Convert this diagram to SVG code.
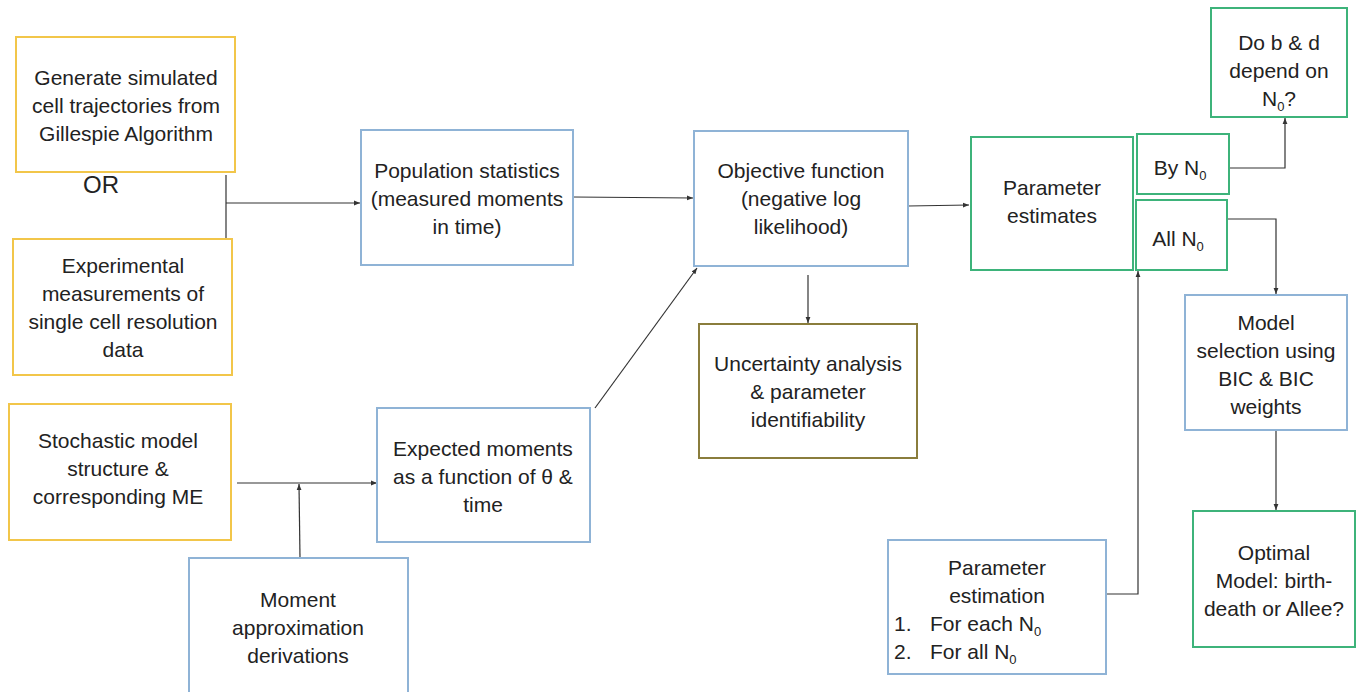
<svg xmlns="http://www.w3.org/2000/svg" width="1356" height="692" viewBox="0 0 1356 692">
<defs>
<marker id="ah" viewBox="0 0 10 10" refX="10" refY="5" markerWidth="6" markerHeight="6" orient="auto" markerUnits="userSpaceOnUse">
<path d="M0,1 L10,5 L0,9 z" fill="#333"/>
</marker>
<style>
.y{fill:#fff;stroke:#f2c64a;stroke-width:2}
.b{fill:#fff;stroke:#8fb3d6;stroke-width:2}
.g{fill:#fff;stroke:#3db37a;stroke-width:2}
.o{fill:#fff;stroke:#8a7d3c;stroke-width:2}
text{font-family:"Liberation Sans","Open Sans",sans-serif;font-size:21px;fill:#222;text-anchor:middle}
.l{text-anchor:start}
.s{font-size:13px}
.c line,.c polyline{stroke:#333;stroke-width:1.2;fill:none}
</style>
</defs>
<rect width="1356" height="692" fill="#fff"/>

<g class="c" id="connectors">
<polyline points="226,175 226,239"/>
<line x1="226" y1="203" x2="360" y2="203" marker-end="url(#ah)"/>
<line x1="573" y1="197" x2="693" y2="198" marker-end="url(#ah)"/>
<line x1="908" y1="206" x2="969" y2="205" marker-end="url(#ah)"/>
<polyline points="1229,168 1285,168 1285,118" marker-end="url(#ah)"/>
<polyline points="1227,219 1276,219 1276,294" marker-end="url(#ah)"/>
<line x1="1276" y1="430" x2="1276" y2="510" marker-end="url(#ah)"/>
<polyline points="1106,594 1138,594 1138,271" marker-end="url(#ah)"/>
<line x1="808" y1="275" x2="808" y2="323" marker-end="url(#ah)"/>
<line x1="595" y1="408" x2="697" y2="268" marker-end="url(#ah)"/>
<line x1="237" y1="483" x2="377" y2="483" marker-end="url(#ah)"/>
<line x1="300" y1="558" x2="299" y2="484" marker-end="url(#ah)"/>
</g>

<g id="gen"><rect class="y" x="16" y="37" width="219" height="135"/>
<text x="126" y="85">Generate simulated</text><text x="126" y="113">cell trajectories from</text><text x="126" y="141">Gillespie Algorithm</text></g>

<g id="or"><text x="101" y="193" style="font-size:24px">OR</text></g>

<g id="exp"><rect class="y" x="13" y="239" width="219" height="136"/>
<text x="123" y="273">Experimental</text><text x="123" y="301">measurements of</text><text x="123" y="329">single cell resolution</text><text x="123" y="357">data</text></g>

<g id="pop"><rect class="b" x="361" y="130" width="212" height="135"/>
<text x="467" y="178">Population statistics</text><text x="467" y="206">(measured moments</text><text x="467" y="234">in time)</text></g>

<g id="obj"><rect class="b" x="694" y="131" width="214" height="135"/>
<text x="801" y="178">Objective function</text><text x="801" y="206">(negative log</text><text x="801" y="234">likelihood)</text></g>

<g id="pe"><rect class="g" x="971" y="137" width="162" height="133"/>
<text x="1052" y="195">Parameter</text><text x="1052" y="223">estimates</text></g>

<g id="byn"><rect class="g" x="1137" y="134" width="92" height="60"/>
<text x="1180" y="175">By N<tspan dy="5" class="s">0</tspan></text></g>

<g id="alln"><rect class="g" x="1136" y="200" width="91" height="70"/>
<text x="1178" y="246">All N<tspan dy="5" class="s">0</tspan></text></g>

<g id="dob"><rect class="g" x="1211" y="8" width="136" height="109"/>
<text x="1279" y="50">Do b &amp; d</text><text x="1279" y="78">depend on</text><text x="1279" y="106">N<tspan dy="5" class="s">0</tspan><tspan dy="-5">?</tspan></text></g>

<g id="ms"><rect class="b" x="1185" y="295" width="162" height="135"/>
<text x="1266" y="330">Model</text><text x="1266" y="358">selection using</text><text x="1266" y="386">BIC &amp; BIC</text><text x="1266" y="414">weights</text></g>

<g id="opt"><rect class="g" x="1193" y="511" width="162" height="136"/>
<text x="1274" y="560">Optimal</text><text x="1274" y="588">Model: birth-</text><text x="1274" y="616">death or Allee?</text></g>

<g id="pest"><rect class="b" x="888" y="540" width="218" height="134"/>
<text x="997" y="575">Parameter</text><text x="997" y="603">estimation</text>
<text class="l" x="894" y="631">1.</text><text class="l" x="930" y="631">For each N<tspan dy="5" class="s">0</tspan></text>
<text class="l" x="894" y="659">2.</text><text class="l" x="930" y="659">For all N<tspan dy="5" class="s">0</tspan></text></g>

<g id="unc"><rect class="o" x="699" y="324" width="218" height="134"/>
<text x="808" y="371">Uncertainty analysis</text><text x="808" y="399">&amp; parameter</text><text x="808" y="427">identifiability</text></g>

<g id="em"><rect class="b" x="377" y="408" width="213" height="134"/>
<text x="483" y="456">Expected moments</text><text x="483" y="484">as a function of θ &amp;</text><text x="483" y="512">time</text></g>

<g id="sto"><rect class="y" x="9" y="404" width="222" height="136"/>
<text x="118" y="448">Stochastic model</text><text x="118" y="476">structure &amp;</text><text x="118" y="504">corresponding ME</text></g>

<g id="mad"><rect class="b" x="189" y="558" width="219" height="140"/>
<text x="298" y="607">Moment</text><text x="298" y="635">approximation</text><text x="298" y="663">derivations</text></g>
</svg>
